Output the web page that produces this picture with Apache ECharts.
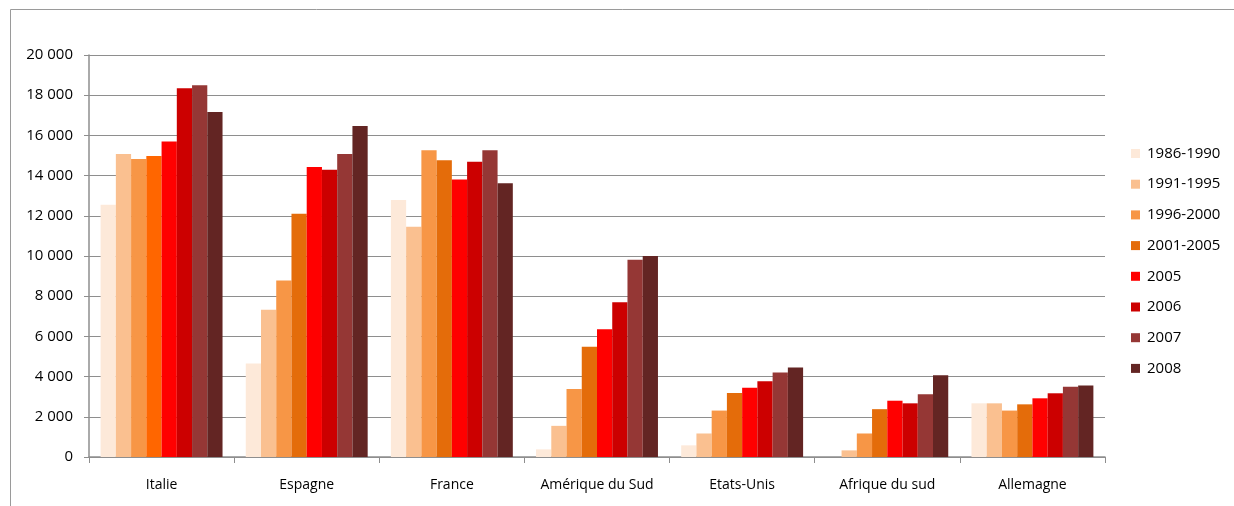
<!DOCTYPE html>
<html>
<head>
<meta charset="utf-8">
<script src="https://cdn.jsdelivr.net/npm/echarts@6/dist/echarts.min.js"></script>
<style>
html,body{margin:0;padding:0;background:#fff;}
#chart{width:1234px;height:506px;}
</style>
</head>
<body>
<div id="chart"></div>
<script>
const categories = ['Italie', 'Espagne', 'France', 'Amérique du Sud', 'Etats-Unis', 'Afrique du sud', 'Allemagne'];
const seriesNames = ['1986-1990', '1991-1995', '1996-2000', '2001-2005', '2005', '2006', '2007', '2008'];
const colors = ['#FDE9D9', '#FAC090', '#F79646', '#E46C0A', '#FF0000', '#CC0000', '#953735', '#632523'];

const v1986_1990 = [12550, 4650, 12780, 380, 580, null, 2670];
const v1991_1995 = [15080, 7320, 11450, 1550, 1170, 330, 2670];
const v1996_2000 = [14820, 8780, 15260, 3380, 2310, 1170, 2310];
const v2001_2005 = [14970, 12100, 14760, 5480, 3180, 2380, 2620];
const v2005 = [15700, 14430, 13800, 6360, 3440, 2800, 2920];
const v2006 = [18350, 14290, 14690, 7700, 3770, 2670, 3170];
const v2007 = [18490, 15070, 15260, 9810, 4200, 3120, 3500];
const v2008 = [17160, 16470, 13620, 10000, 4450, 4070, 3560];

const yTicks = [0, 2000, 4000, 6000, 8000, 10000, 12000, 14000, 16000, 18000, 20000];
const italie2001Color = '#FF6600';

const allValues = [v1986_1990, v1991_1995, v1996_2000, v2001_2005, v2005, v2006, v2007, v2008];

const FONT = '"Open Sans", sans-serif';
const GRID_COLOR = '#8E8E8E';

const series = allValues.map((vals, i) => ({
  name: seriesNames[i],
  type: 'bar',
  barGap: '0%',
  barCategoryGap: '16%',
  itemStyle: { color: colors[i] },
  data: vals.map((v, j) => (i === 3 && j === 0) ? { value: v, itemStyle: { color: italie2001Color } } : v),
  animation: false
}));

const chart = echarts.init(document.getElementById('chart'), null, { renderer: 'canvas' });
chart.setOption({
  backgroundColor: '#fff',
  animation: false,
  graphic: [{
    type: 'rect',
    left: 8, top: 7,
    shape: { width: 1300, height: 600 },
    style: { fill: 'none', stroke: '#9A9A9A', lineWidth: 1 },
    silent: true,
    z: -10
  }],
  grid: { left: 89, right: 129, top: 55, bottom: 49, containLabel: false },
  legend: {
    orient: 'vertical',
    left: 1131,
    top: 146,
    padding: 0,
    itemWidth: 9,
    itemHeight: 9,
    itemGap: 15.7,
    icon: 'rect',
    data: seriesNames,
    textStyle: { fontFamily: FONT, fontSize: 15, color: '#000', lineHeight: 15, padding: [0, 0, 0, 2] }
  },
  xAxis: {
    type: 'category',
    data: categories,
    axisLine: { show: true, lineStyle: { color: GRID_COLOR, width: 1.5 } },
    axisTick: { show: true, interval: 0, alignWithLabel: false, length: 6, lineStyle: { color: GRID_COLOR } },
    axisLabel: { interval: 0, fontFamily: FONT, fontSize: 14, color: '#000', margin: 21 },
    splitLine: { show: false }
  },
  yAxis: {
    type: 'value',
    min: 0,
    max: 20000,
    interval: 2000,
    axisLine: { show: true, lineStyle: { color: GRID_COLOR, width: 1.5 } },
    axisTick: { show: true, length: 5, inside: false, lineStyle: { color: GRID_COLOR } },
    axisLabel: {
      fontFamily: FONT, fontSize: 15, color: '#000', margin: 16,
      formatter: v => yTicks.includes(v) ? String(v).replace(/\B(?=(\d{3})+(?!\d))/g, ' ') : ''
    },
    splitLine: { show: true, lineStyle: { color: GRID_COLOR, width: 1.2 } }
  },
  series: series
});
</script>
</body>
</html>
